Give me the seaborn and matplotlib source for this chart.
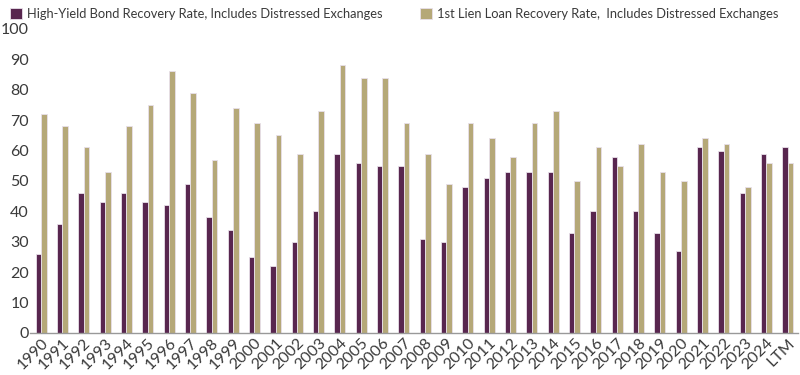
import seaborn as sns
import matplotlib.pyplot as plt
import pandas as pd

# Данные
years = [str(y) for y in range(1990, 2025)] + ['LTM']
hy_bond = [26, 36, 46, 43, 46, 43, 42, 49, 38, 34, 25, 22, 30, 40, 59, 56, 55, 55,
           31, 30, 48, 51, 53, 53, 53, 33, 40, 58, 40, 33, 27, 61, 60, 46, 59, 61]
loan = [72, 68, 61, 53, 68, 75, 86, 79, 57, 74, 69, 65, 59, 73, 88, 84, 84, 69,
        59, 49, 69, 64, 58, 69, 73, 50, 61, 55, 62, 53, 50, 64, 62, 48, 56, 56]
series_names = ['High-Yield Bond Recovery Rate, Includes Distressed Exchanges',
                '1st Lien Loan Recovery Rate,  Includes Distressed Exchanges']

df = pd.DataFrame({'year': years * 2,
                   'rate': hy_bond + loan,
                   'series': [series_names[0]] * len(years) + [series_names[1]] * len(years)})

sns.set_style("white")
plt.rcParams['font.family'] = ['Lato', 'DejaVu Sans']

palette = {series_names[0]: '#58264f', series_names[1]: '#b5a878'}

fig, ax = plt.subplots(figsize=(8, 3.75), dpi=100)
fig.subplots_adjust(left=0.038, right=0.998, bottom=0.112, top=0.923)

sns.barplot(data=df, x='year', y='rate', hue='series', palette=palette,
            order=years, hue_order=series_names, width=0.52, gap=0.0,
            saturation=1, edgecolor='#e8e0ea', linewidth=0.6, ax=ax)

ax.set_ylim(0, 100)
ax.set_yticks(range(0, 101, 10))
ax.set_xlim(-0.5, len(years) - 0.5)
ax.set_xlabel('')
ax.set_ylabel('')
ax.tick_params(axis='both', length=0, labelsize=11.5, colors='#3a3a3a', pad=2)
ax.tick_params(axis='y', pad=1)
for lbl in ax.get_yticklabels():
    lbl.set_horizontalalignment('right')
plt.setp(ax.get_xticklabels(), rotation=45, ha='right', rotation_mode='anchor')

for side in ['left', 'right', 'top']:
    ax.spines[side].set_visible(False)
ax.spines['bottom'].set_color('#999999')
ax.spines['bottom'].set_linewidth(1)

handles, labels = ax.get_legend_handles_labels()
ax.get_legend().remove()
fig.legend(handles, labels, loc='upper left', bbox_to_anchor=(-0.002, 1.01), ncol=2,
           frameon=False, fontsize=9.3, handlelength=0.9, handleheight=0.9,
           handletextpad=0.45, columnspacing=2.85, labelcolor='#3a3a3a')

fig.savefig('out.png', dpi=100)
